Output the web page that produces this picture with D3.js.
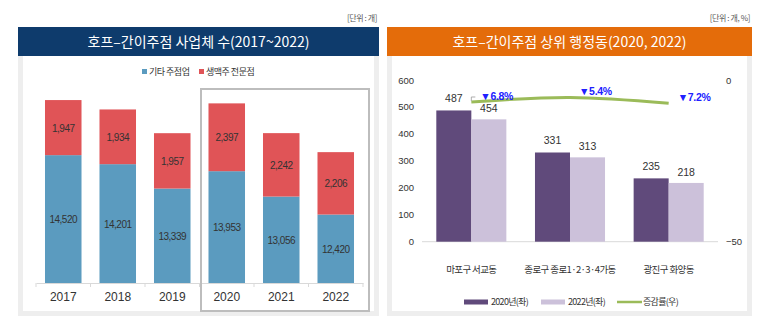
<!DOCTYPE html>
<html>
<head>
<meta charset="utf-8">
<script src="https://cdn.jsdelivr.net/npm/d3@7"></script>
<style>
  body { margin: 0; background: #fff; }
  svg { display: block; font-family: "Liberation Sans", "Noto Sans CJK KR", sans-serif; }
  .kr { font-family: "Noto Sans CJK KR", sans-serif; }
</style>
</head>
<body>
<svg id="chart" width="773" height="335"></svg>
<script>
const years = ["2017", "2018", "2019", "2020", "2021", "2022"];
const etcPubs = [14520, 14201, 13339, 13953, 13056, 12420];
const draftPubs = [1947, 1934, 1957, 2397, 2242, 2206];

const dongs = ["마포구 서교동", "종로구 종로1·2·3·4가동", "광진구 화양동"];
const count2020 = [487, 331, 235];
const count2022 = [454, 313, 218];
const changeRate = [-6.8, -5.4, -7.2];
const leftTicks = [0, 100, 200, 300, 400, 500, 600];
const rightTicks = [0, -50];

const svg = d3.select("#chart");
const fmt = d3.format(",");

// ---------- panel frames ----------
function panel(x0, x1, color, title, unit) {
    svg.append("rect").attr("x", x0).attr("y", 56).attr("width", x1 - x0).attr("height", 260).attr("fill", "#eeeeee");
    svg.append("rect").attr("x", x0 + 5).attr("y", 56).attr("width", x1 - x0 - 10).attr("height", 255).attr("fill", "#fff");
    svg.append("rect").attr("x", x0).attr("y", 27).attr("width", x1 - x0).attr("height", 29).attr("fill", color);
    svg.append("text").attr("class", "kr").attr("x", (x0 + x1) / 2).attr("y", 47)
        .attr("text-anchor", "middle").attr("fill", "#fff").attr("font-size", 14).text(title);
    svg.append("text").attr("class", "kr").attr("x", x1 - 2).attr("y", 21)
        .attr("text-anchor", "end").attr("fill", "#555").attr("font-size", 8).attr("letter-spacing", -0.4).text(unit);
}
panel(18, 379, "#0e3b6c", "호프–간이주점 사업체 수(2017~2022)", "[단위 : 개]");
panel(387, 752, "#e46c0a", "호프–간이주점 상위 행정동(2020, 2022)", "[단위 : 개, %]");

// ---------- left: stacked bars ----------
const x1s = d3.scaleBand().domain(years).range([36, 363]).paddingInner(0.33).paddingOuter(0.165);
const y1s = d3.scaleLinear().domain([10000, 18000]).range([283, 56.7]);

const gL = svg.append("g");
gL.selectAll(".etc").data(years).enter().append("rect")
    .attr("x", d => x1s(d)).attr("width", x1s.bandwidth())
    .attr("y", (d, i) => y1s(etcPubs[i])).attr("height", (d, i) => y1s(10000) - y1s(etcPubs[i]))
    .attr("fill", "#5b9bbf");
gL.selectAll(".draft").data(years).enter().append("rect")
    .attr("x", d => x1s(d)).attr("width", x1s.bandwidth())
    .attr("y", (d, i) => y1s(etcPubs[i] + draftPubs[i])).attr("height", (d, i) => y1s(etcPubs[i]) - y1s(etcPubs[i] + draftPubs[i]))
    .attr("fill", "#e05457");
gL.selectAll(".etcLbl").data(years).enter().append("text")
    .attr("x", d => x1s(d) + x1s.bandwidth() / 2)
    .attr("y", (d, i) => (y1s(etcPubs[i]) + y1s(10000)) / 2 + 4)
    .attr("text-anchor", "middle").attr("font-size", 10).attr("letter-spacing", -0.5).attr("fill", "#333")
    .text((d, i) => fmt(etcPubs[i]));
gL.selectAll(".draftLbl").data(years).enter().append("text")
    .attr("x", d => x1s(d) + x1s.bandwidth() / 2)
    .attr("y", (d, i) => (y1s(etcPubs[i]) + y1s(etcPubs[i] + draftPubs[i])) / 2 + 4)
    .attr("text-anchor", "middle").attr("font-size", 10).attr("letter-spacing", -0.5).attr("fill", "#333")
    .text((d, i) => fmt(draftPubs[i]));

// x axis
const axL = gL.append("g").attr("transform", "translate(0,283)")
    .call(d3.axisBottom(x1s).tickSize(0).tickPadding(9));
axL.select(".domain").attr("stroke", "#d9d9d9");
axL.selectAll("text").attr("font-size", 12).attr("fill", "#333").attr("font-family", "Liberation Sans");
axL.selectAll(".sep").data(d3.range(years.length + 1)).enter().append("line")
    .attr("x1", i => 36 + i * x1s.step()).attr("x2", i => 36 + i * x1s.step())
    .attr("y1", 0).attr("y2", 4).attr("stroke", "#d9d9d9");

// highlight box 2020-2022
svg.append("rect").attr("x", 201).attr("y", 89).attr("width", 168).attr("height", 222)
    .attr("fill", "none").attr("stroke", "#bdbdbd").attr("stroke-width", 2);

// legend
const legL = svg.append("g").attr("class", "kr").attr("font-size", 9).attr("fill", "#333").attr("letter-spacing", -0.5);
legL.append("rect").attr("x", 142).attr("y", 69).attr("width", 5).attr("height", 5).attr("fill", "#5b9bbf");
legL.append("text").attr("x", 149).attr("y", 75).text("기타 주점업");
legL.append("rect").attr("x", 199).attr("y", 69).attr("width", 5).attr("height", 5).attr("fill", "#e05457");
legL.append("text").attr("x", 206).attr("y", 75).text("생맥주 전문점");

// ---------- right: grouped bars + line ----------
const x2 = d3.scaleBand().domain(dongs).range([422, 718]).paddingInner(0.29).paddingOuter(0.145);
const y2 = d3.scaleLinear().domain([0, 600]).range([241.7, 80]);
const y2r = d3.scaleLinear().domain([-50, 0]).range([241.7, 80]);
const bw = x2.bandwidth() / 2;

const gR = svg.append("g");
gR.append("line").attr("x1", 422).attr("x2", 718).attr("y1", 241.7).attr("y2", 241.7).attr("stroke", "#d9d9d9");

gR.selectAll(".b20").data(dongs).enter().append("rect")
    .attr("x", d => x2(d)).attr("width", bw)
    .attr("y", (d, i) => y2(count2020[i])).attr("height", (d, i) => y2(0) - y2(count2020[i]))
    .attr("fill", "#604a7b");
gR.selectAll(".b22").data(dongs).enter().append("rect")
    .attr("x", d => x2(d) + bw).attr("width", bw)
    .attr("y", (d, i) => y2(count2022[i])).attr("height", (d, i) => y2(0) - y2(count2022[i]))
    .attr("fill", "#ccc1da");
gR.selectAll(".l20").data(dongs).enter().append("text")
    .attr("x", d => x2(d) + bw / 2).attr("y", (d, i) => y2(count2020[i]) - 8)
    .attr("text-anchor", "middle").attr("font-size", 10.5).attr("fill", "#333").text((d, i) => count2020[i]);
gR.selectAll(".l22").data(dongs).enter().append("text")
    .attr("x", d => x2(d) + bw * 1.5).attr("y", (d, i) => y2(count2022[i]) - 7)
    .attr("text-anchor", "middle").attr("font-size", 10.5).attr("fill", "#333").text((d, i) => count2022[i]);

// axes
const axY = gR.append("g").attr("transform", "translate(414,0)")
    .call(d3.axisLeft(y2).tickValues(leftTicks).tickSize(0).tickPadding(0));
axY.select(".domain").remove();
axY.selectAll("text").attr("font-size", 9.5).attr("fill", "#333");
const axYr = gR.append("g").attr("transform", "translate(726,0)")
    .call(d3.axisRight(y2r).tickValues(rightTicks).tickSize(0).tickPadding(0).tickFormat(d => d < 0 ? "−" + Math.abs(d) : d));
axYr.select(".domain").remove();
axYr.selectAll("text").attr("font-size", 9.5).attr("fill", "#333");
const axX = gR.append("g").attr("transform", "translate(0,241.7)")
    .call(d3.axisBottom(x2).tickSize(0).tickPadding(25));
axX.select(".domain").remove();
axX.selectAll("text").attr("class", "kr").attr("font-size", 9.5).attr("letter-spacing", -0.6).attr("fill", "#333");

// line
const line = d3.line()
    .x((d, i) => x2(dongs[i]) + x2.bandwidth() / 2)
    .y(d => y2r(d))
    .curve(d3.curveCatmullRom);
gR.append("path").datum(changeRate).attr("d", line)
    .attr("fill", "none").attr("stroke", "#9bbb59").attr("stroke-width", 3);
gR.append("path")
    .attr("d", `M${x2(dongs[0]) + bw},${y2r(changeRate[0]) - 1}v-4h4`)
    .attr("fill", "none").attr("stroke", "#999").attr("stroke-width", 0.8);
gR.selectAll(".rate").data(changeRate).enter().append("text")
    .attr("x", (d, i) => x2(dongs[i]) + x2.bandwidth() / 2 + 9)
    .attr("y", d => y2r(d) - 2)
    .attr("font-size", 10.5).attr("font-weight", "bold").attr("fill", "#2020ff").attr("letter-spacing", -0.3)
    .text(d => "▼" + Math.abs(d).toFixed(1) + "%");

// legend
const legR = svg.append("g").attr("class", "kr").attr("font-size", 9).attr("fill", "#333").attr("letter-spacing", -0.7);
legR.append("rect").attr("x", 464).attr("y", 299.5).attr("width", 24).attr("height", 5).attr("fill", "#604a7b");
legR.append("text").attr("x", 491).attr("y", 305).text("2020년(좌)");
legR.append("rect").attr("x", 541).attr("y", 299.5).attr("width", 24).attr("height", 5).attr("fill", "#ccc1da");
legR.append("text").attr("x", 568).attr("y", 305).text("2022년(좌)");
legR.append("line").attr("x1", 617).attr("x2", 642).attr("y1", 302).attr("y2", 302).attr("stroke", "#9bbb59").attr("stroke-width", 2.5);
legR.append("text").attr("x", 643).attr("y", 305).text("증감률(우)");
</script>
</body>
</html>
